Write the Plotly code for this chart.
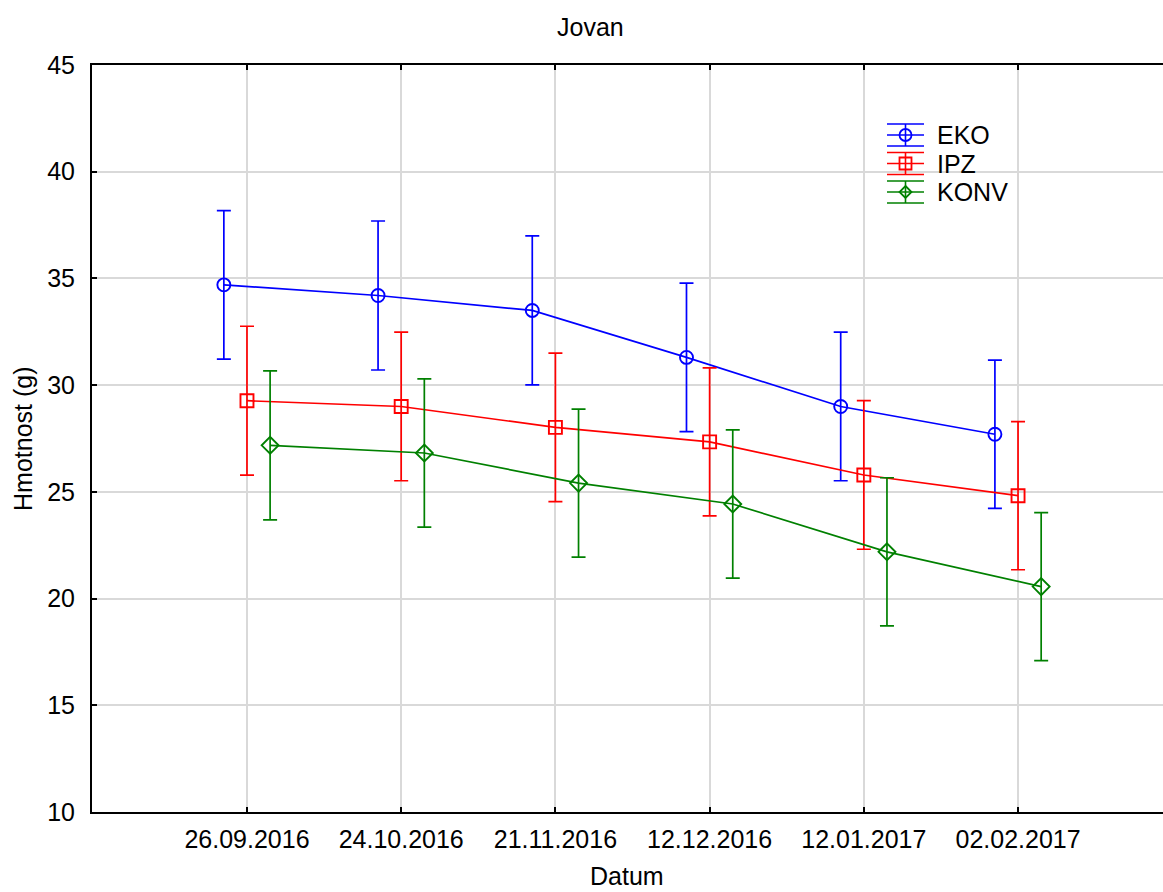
import plotly.graph_objects as go

dates = ["26.09.2016", "24.10.2016", "21.11.2016", "12.12.2016", "12.01.2017", "02.02.2017"]
eko = [34.7, 34.2, 33.5, 31.3, 29.0, 27.7]
eko_err = [3.48, 3.49, 3.49, 3.48, 3.48, 3.47]
ipz = [29.27, 29.0, 28.02, 27.34, 25.79, 24.82]
ipz_err = [3.49, 3.48, 3.48, 3.47, 3.48, 3.47]
konv = [27.18, 26.82, 25.41, 24.43, 22.19, 20.56]
konv_err = [3.49, 3.47, 3.47, 3.47, 3.47, 3.47]

series = [
    ("EKO", eko, eko_err, "blue", "circle-open", -0.15),
    ("IPZ", ipz, ipz_err, "red", "square-open", 0.0),
    ("KONV", konv, konv_err, "green", "diamond-open", 0.15),
]

W, H = 1163, 892
ML, MR, MT, MB = 92, 0, 65, 80
PW, PH = W - ML - MR, H - MT - MB


def px(x):
    return (x - ML) / PW


def py(y):
    return (H - MB - y) / PH


font = "Liberation Sans, Arial, sans-serif"
FS = 25
fig = go.Figure()
for name, vals, err, col, sym, off in series:
    xs = [i + off for i in range(len(dates))]
    fig.add_trace(go.Scatter(
        x=xs, y=vals, name=name, mode="lines+markers",
        line=dict(color=col, width=1.7),
        marker=dict(symbol=sym, size=13, color=col, line=dict(width=1.9, color=col)),
        error_y=dict(type="data", array=err, visible=True, color=col, thickness=1.7, width=7),
        showlegend=False,
    ))

# custom legend (mimics the reference's error-bar style legend symbols)
shapes = []
annotations = []
leg_y = [135, 163.5, 192]
x0, x1, xc = 887, 924, 905.5
for (name, vals, err, col, sym, off), yc in zip(series, leg_y):
    ln = dict(color=col, width=1.6)
    for dy in (-11, 0, 11):
        shapes.append(dict(type="line", xref="paper", yref="paper",
                           x0=px(x0), x1=px(x1), y0=py(yc + dy), y1=py(yc + dy), line=ln))
    shapes.append(dict(type="line", xref="paper", yref="paper",
                       x0=px(xc), x1=px(xc), y0=py(yc - 11), y1=py(yc + 11), line=ln))
    r = 6
    mline = dict(color=col, width=1.8)
    if sym.startswith("circle"):
        shapes.append(dict(type="circle", xref="paper", yref="paper",
                           x0=px(xc - r), x1=px(xc + r), y0=py(yc + r), y1=py(yc - r), line=mline))
    elif sym.startswith("square"):
        shapes.append(dict(type="rect", xref="paper", yref="paper",
                           x0=px(xc - r), x1=px(xc + r), y0=py(yc + r), y1=py(yc - r), line=mline))
    else:
        path = "M {a},{b} L {c},{d} L {a},{e} L {f},{d} Z".format(
            a=px(xc), b=py(yc - r), c=px(xc + r), d=py(yc), e=py(yc + r), f=px(xc - r))
        shapes.append(dict(type="path", xref="paper", yref="paper", path=path, line=mline))
    annotations.append(dict(text=name, xref="paper", yref="paper", x=px(935), y=py(yc),
                            xanchor="left", yanchor="middle", showarrow=False,
                            font=dict(family=font, size=FS, color="black")))

annotations.append(dict(text="Jovan", xref="paper", yref="paper", x=px(590), y=py(27),
                        xanchor="center", yanchor="middle", showarrow=False,
                        font=dict(family=font, size=FS, color="black")))
annotations.append(dict(text="Datum", xref="paper", yref="paper", x=px(627), y=py(876),
                        xanchor="center", yanchor="middle", showarrow=False,
                        font=dict(family=font, size=FS, color="black")))
annotations.append(dict(text="Hmotnost (g)", xref="paper", yref="paper", x=px(23), y=py(439),
                        xanchor="center", yanchor="middle", showarrow=False, textangle=-90,
                        font=dict(family=font, size=FS, color="black")))

fig.update_layout(
    width=W, height=H,
    margin=dict(l=ML, r=MR, t=MT, b=MB),
    paper_bgcolor="white", plot_bgcolor="white",
    font=dict(family=font, size=FS, color="black"),
    shapes=shapes, annotations=annotations,
    showlegend=False,
)
fig.update_xaxes(
    range=[-1.005, 5.94],
    tickmode="array", tickvals=list(range(len(dates))), ticktext=dates,
    tickfont=dict(family=font, size=FS),
    showgrid=True, gridcolor="#d9d9d9", gridwidth=1.5,
    showline=True, linecolor="black", linewidth=2, mirror="ticks",
    ticks="inside", ticklen=5, tickcolor="black", tickwidth=2,
    zeroline=False, ticklabelstandoff=4,
)
fig.update_yaxes(
    range=[10, 45], tickmode="array", tickvals=[10, 15, 20, 25, 30, 35, 40, 45],
    tickfont=dict(family=font, size=FS),
    showgrid=True, gridcolor="#d9d9d9", gridwidth=1.5,
    showline=True, linecolor="black", linewidth=2, mirror=False,
    ticks="inside", ticklen=5, tickcolor="black", tickwidth=2,
    zeroline=False, ticklabelstandoff=10,
)

fig.write_html("out.html")
